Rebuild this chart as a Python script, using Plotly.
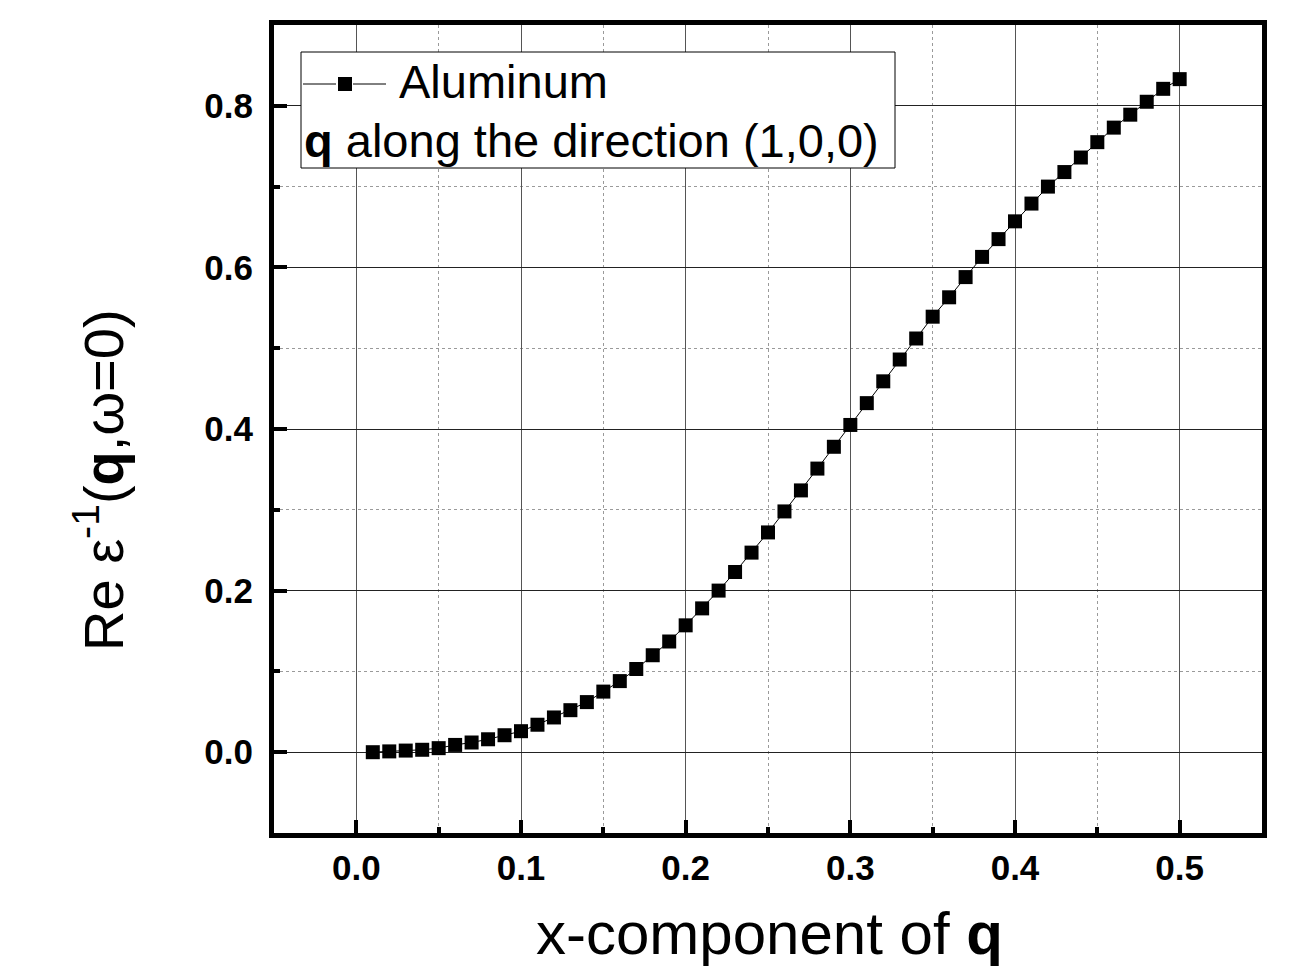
import plotly.graph_objects as go

# ---- data ----
q_x = [0.01, 0.02, 0.03, 0.04, 0.05, 0.06, 0.07, 0.08, 0.09, 0.10,
       0.11, 0.12, 0.13, 0.14, 0.15, 0.16, 0.17, 0.18, 0.19, 0.20,
       0.21, 0.22, 0.23, 0.24, 0.25, 0.26, 0.27, 0.28, 0.29, 0.30,
       0.31, 0.32, 0.33, 0.34, 0.35, 0.36, 0.37, 0.38, 0.39, 0.40,
       0.41, 0.42, 0.43, 0.44, 0.45, 0.46, 0.47, 0.48, 0.49, 0.50]
re_eps_inv = [0.000, 0.001, 0.002, 0.003, 0.005, 0.009, 0.012, 0.016, 0.021, 0.026,
              0.034, 0.043, 0.052, 0.062, 0.075, 0.088, 0.103, 0.120, 0.137, 0.157,
              0.178, 0.200, 0.223, 0.247, 0.272, 0.298, 0.324, 0.351, 0.378, 0.405,
              0.432, 0.459, 0.486, 0.512, 0.539, 0.563, 0.588, 0.613, 0.635, 0.657,
              0.679, 0.700, 0.718, 0.736, 0.755, 0.773, 0.789, 0.805, 0.821, 0.833]
series_name = "Aluminum"
legend_note = "<b>q</b> along the direction (1,0,0)"
x_title = "x-component of <b>q</b>"
y_title = "Re ε<sup>-1</sup>(<b>q</b>,ω=0)"
x_tickvals = [0.0, 0.1, 0.2, 0.3, 0.4, 0.5]
y_tickvals = [0.0, 0.2, 0.4, 0.6, 0.8]

# ---- layout helpers ----
W, H = 1296, 976
L, R, T, B = 274, 34, 25, 143
PW, PH = W - L - R, H - T - B


def px(x):
    return (x - L) / PW


def py(y):
    return 1 - (y - T) / PH


FONT = "Arial, Liberation Sans, sans-serif"

fig = go.Figure()
fig.add_trace(go.Scatter(
    x=q_x, y=re_eps_inv, mode="lines+markers", name=series_name,
    line=dict(color="black", width=1),
    marker=dict(symbol="square", size=14, color="black", line=dict(width=0)),
    showlegend=False,
))

axis_common = dict(
    showline=True, linewidth=5, linecolor="black", mirror=True,
    ticks="inside", ticklen=13, tickwidth=4, tickcolor="black",
    showgrid=True, gridwidth=1, zeroline=False,
    tickfont=dict(family=FONT, size=35, color="black", weight="bold"),
)

fig.update_xaxes(
    range=[-0.05, 0.55], tickvals=x_tickvals,
    ticktext=[f"{v:.1f}" for v in x_tickvals],
    gridcolor="#555555",
    minor=dict(dtick=0.05, tick0=0, ticks="inside", ticklen=6, tickwidth=4,
               tickcolor="black", showgrid=True, gridcolor="#9a9a9a",
               griddash="dot", gridwidth=1),
    **axis_common,
)
fig.update_yaxes(
    range=[-0.1, 0.9], tickvals=y_tickvals,
    ticktext=[f"{v:.1f}" for v in y_tickvals],
    gridcolor="#222222", ticklabelstandoff=9,
    minor=dict(dtick=0.1, tick0=0, ticks="inside", ticklen=6, tickwidth=4,
               tickcolor="black", showgrid=True, gridcolor="#9a9a9a",
               griddash="dot", gridwidth=1),
    **axis_common,
)

shapes = [
    # legend box
    dict(type="rect", xref="paper", yref="paper", layer="above",
         x0=px(301), x1=px(895), y0=py(168), y1=py(52),
         fillcolor="white", line=dict(color="black", width=1)),
    # legend line segments
    dict(type="line", xref="paper", yref="paper", layer="above",
         x0=px(303), x1=px(336), y0=py(84), y1=py(84),
         line=dict(color="black", width=1)),
    dict(type="line", xref="paper", yref="paper", layer="above",
         x0=px(353), x1=px(386), y0=py(84), y1=py(84),
         line=dict(color="black", width=1)),
    # legend marker
    dict(type="rect", xref="paper", yref="paper", layer="above",
         x0=px(338), x1=px(352), y0=py(91), y1=py(77),
         fillcolor="black", line=dict(color="black", width=0)),
]

annotations = [
    dict(text=series_name, xref="paper", yref="paper", x=px(397), y=py(82),
         xanchor="left", yanchor="middle", showarrow=False,
         font=dict(family=FONT, size=47, color="black")),
    dict(text=legend_note, xref="paper", yref="paper", x=px(302), y=py(140),
         xanchor="left", yanchor="middle", showarrow=False,
         font=dict(family=FONT, size=47, color="black")),
    dict(text=x_title, xref="paper", yref="paper", x=px(769), y=py(933),
         xanchor="center", yanchor="middle", showarrow=False,
         font=dict(family=FONT, size=60, color="black")),
    dict(text=y_title, xref="paper", yref="paper", x=px(100), y=py(480),
         xanchor="center", yanchor="middle", showarrow=False, textangle=-90,
         font=dict(family=FONT, size=56, color="black")),
]

fig.update_layout(
    width=W, height=H,
    margin=dict(l=L, r=R, t=T, b=B, pad=0),
    paper_bgcolor="white", plot_bgcolor="white",
    shapes=shapes, annotations=annotations,
    showlegend=False,
    font=dict(family=FONT, color="black"),
)

fig.write_html("out.html")
